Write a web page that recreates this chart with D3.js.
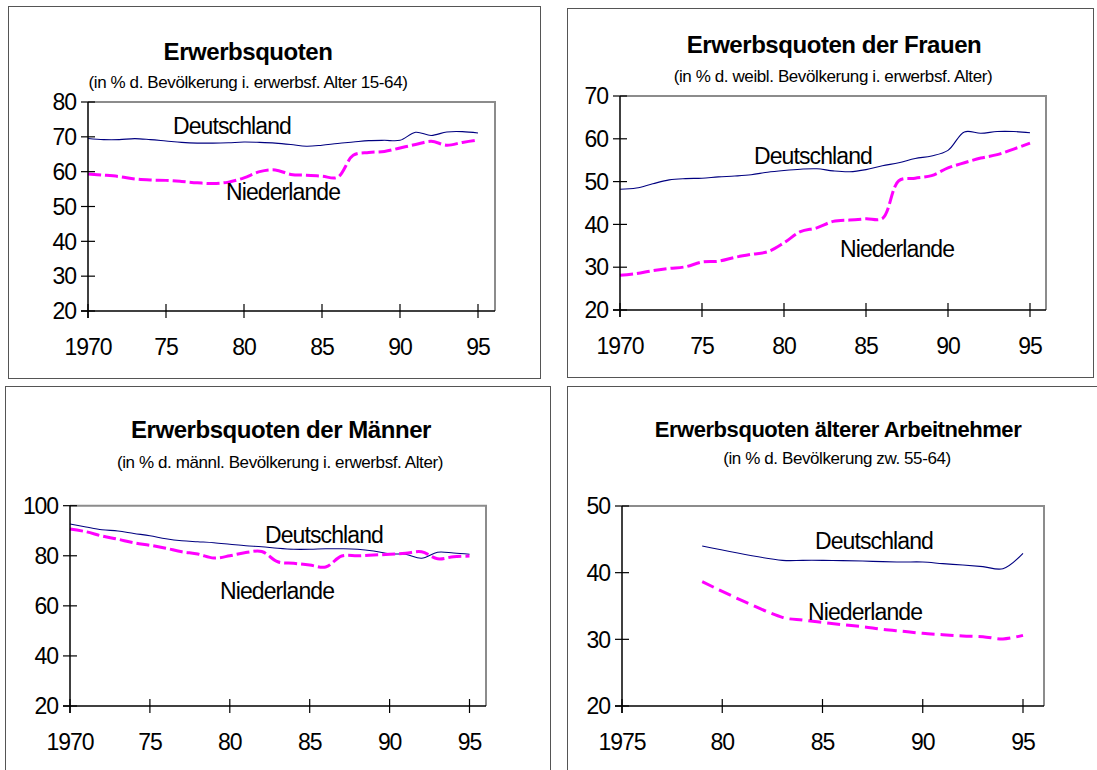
<!DOCTYPE html>
<html>
<head>
<meta charset="utf-8">
<script src="https://cdn.jsdelivr.net/npm/d3@7"></script>
<style>
  html, body { margin: 0; padding: 0; background: #fff; }
  svg { display: block; font-family: "Liberation Sans", Arial, sans-serif; }
</style>
</head>
<body>
<svg id="chart" width="1097" height="770"></svg>
<script>
// ---------- DATA ----------
const years7095 = [1970,1971,1972,1973,1974,1975,1976,1977,1978,1979,1980,1981,1982,1983,1984,1985,1986,1987,1988,1989,1990,1991,1992,1993,1994,1995];

const gesamtDE = [69.5,69.2,69.2,69.5,69.2,68.8,68.4,68.2,68.2,68.3,68.5,68.4,68.2,67.8,67.3,67.6,68.1,68.5,68.9,69.0,69.0,71.3,70.4,71.4,71.5,71.1];
const gesamtNL = [59.3,59.0,58.6,57.9,57.6,57.5,57.2,56.8,56.6,57.0,58.2,60.0,60.5,59.2,59.0,58.7,58.4,64.7,65.5,65.8,66.8,67.8,68.7,67.6,68.4,69.1];

const frauenDE = [48.2,48.5,49.5,50.4,50.7,50.8,51.1,51.3,51.6,52.2,52.6,52.9,53.0,52.5,52.3,52.8,53.7,54.4,55.4,56.0,57.3,61.6,61.3,61.7,61.7,61.4];
const frauenNL = [28.1,28.5,29.2,29.7,30.1,31.2,31.4,32.3,33.0,33.6,35.7,38.3,39.2,40.7,41.0,41.3,41.4,50.2,50.8,51.4,53.2,54.4,55.5,56.3,57.6,59.0];

const maennerDE = [92.7,91.5,90.4,89.9,88.9,88.0,86.8,86.0,85.6,85.2,84.6,84.0,83.6,83.0,82.6,82.6,82.8,82.8,82.6,81.9,80.8,80.6,79.0,81.4,81.1,80.6];
const maennerNL = [90.7,89.6,87.9,86.6,85.2,84.2,83.0,81.6,80.7,79.1,80.0,81.3,81.7,77.6,77.0,76.3,75.5,79.9,80.0,80.3,80.6,81.0,81.6,78.8,79.6,79.9];

const aeltereYears = [1979,1983,1984,1985,1986,1987,1988,1989,1990,1991,1992,1993,1994,1995];
const aeltereDE = [44.0,41.85,41.85,41.85,41.8,41.75,41.65,41.6,41.6,41.35,41.15,40.9,40.6,42.9];
const aeltereNL = [38.65,33.3,32.9,32.55,32.2,31.9,31.5,31.2,30.9,30.7,30.5,30.4,30.05,30.6];

const xTicks7095 = [1970,1975,1980,1985,1990,1995];
const xTickLabels7095 = ["1970","75","80","85","90","95"];
const xTicks7595 = [1975,1980,1985,1990,1995];
const xTickLabels7595 = ["1975","80","85","90","95"];

const yTicksGesamt = [20,30,40,50,60,70,80];
const yTicksFrauen = [20,30,40,50,60,70];
const yTicksMaenner = [20,40,60,80,100];
const yTicksAeltere = [20,30,40,50];

const titles = ["Erwerbsquoten","Erwerbsquoten der Frauen","Erwerbsquoten der Männer","Erwerbsquoten älterer Arbeitnehmer"];
const subtitles = ["(in % d. Bevölkerung i. erwerbsf. Alter 15-64)","(in % d. weibl. Bevölkerung i. erwerbsf. Alter)","(in % d. männl. Bevölkerung i. erwerbsf. Alter)","(in % d. Bevölkerung zw. 55-64)"];
const seriesNames = ["Deutschland","Niederlande"];

// ---------- LAYOUT ----------
const panels = [
  { box:[8,6,540,378], xDom:[1970,1995], xR:[88,478], frameR:495, yDom:[20,80], yR:[311,102],
    xT:xTicks7095, xL:xTickLabels7095, yT:yTicksGesamt, years:years7095, de:gesamtDE, nl:gesamtNL,
    title:[248,60,24], sub:[248,88], deL:[173,134], nlL:[226,200], dash:"13,4" },
  { box:[567,8,1093,377], xDom:[1970,1995], xR:[620,1030], frameR:1046, yDom:[20,70], yR:[310,96],
    xT:xTicks7095, xL:xTickLabels7095, yT:yTicksFrauen, years:years7095, de:frauenDE, nl:frauenNL,
    title:[834,53,24], sub:[833,82], deL:[754,164], nlL:[840,257], dash:"13,4" },
  { box:[5,386,550,800], xDom:[1970,1995], xR:[70,469.5], frameR:486, yDom:[20,100], yR:[706,505.7],
    xT:xTicks7095, xL:xTickLabels7095, yT:yTicksMaenner, years:years7095, de:maennerDE, nl:maennerNL,
    title:[281,438,24], sub:[280,468], deL:[265,543], nlL:[220,599], dash:"13,4" },
  { box:[567,386,1100,800], xDom:[1975,1995], xR:[622,1023], frameR:1044, yDom:[20,50], yR:[706,506],
    xT:xTicks7595, xL:xTickLabels7595, yT:yTicksAeltere, years:aeltereYears, de:aeltereDE, nl:aeltereNL,
    title:[838,437,22], sub:[837,464], deL:[815,549], nlL:[808,620], dash:"13,6" }
];

const svg = d3.select("#chart");

panels.forEach((p, i) => {
  const g = svg.append("g");
  // outer border
  g.append("rect")
    .attr("x", p.box[0] + 0.5).attr("y", p.box[1] + 0.5)
    .attr("width", p.box[2] - p.box[0]).attr("height", p.box[3] - p.box[1])
    .attr("fill", "none").attr("stroke", "#555").attr("stroke-width", 1);

  const x = d3.scaleLinear().domain(p.xDom).range(p.xR);
  const y = d3.scaleLinear().domain(p.yDom).range(p.yR);
  const left = p.xR[0], bottom = p.yR[0], top = p.yR[1], right = p.frameR;

  // title
  g.append("text").attr("x", p.title[0]).attr("y", p.title[1])
    .attr("text-anchor", "middle").attr("font-weight", "bold")
    .attr("font-size", p.title[2]).attr("letter-spacing", -0.45).text(titles[i]);
  g.append("text").attr("x", p.sub[0]).attr("y", p.sub[1])
    .attr("text-anchor", "middle").attr("font-size", 17).attr("letter-spacing", -0.4)
    .text(subtitles[i]);

  // grey frame top & right
  g.append("path")
    .attr("d", `M${left},${top}H${right}V${bottom}`)
    .attr("fill", "none").attr("stroke", "#8c8c8c").attr("stroke-width", 2);

  // lines
  const line = d3.line().x((d) => x(d[0])).y((d) => y(d[1])).curve(d3.curveCatmullRom.alpha(0.5));
  g.append("path").datum(p.years.map((yr, k) => [yr, p.de[k]]))
    .attr("d", line).attr("fill", "none").attr("stroke", "#000080").attr("stroke-width", 1.1);
  g.append("path").datum(p.years.map((yr, k) => [yr, p.nl[k]]))
    .attr("d", line).attr("fill", "none").attr("stroke", "#ff00ff")
    .attr("stroke-width", 3).attr("stroke-dasharray", p.dash);

  // axes (black left and bottom)
  g.append("line").attr("x1", left).attr("x2", left).attr("y1", top).attr("y2", bottom + 7)
    .attr("stroke", "#000").attr("stroke-width", 1.5);
  g.append("line").attr("x1", left - 7).attr("x2", right).attr("y1", bottom).attr("y2", bottom)
    .attr("stroke", "#000").attr("stroke-width", 1.5);

  // y ticks (cross)
  g.selectAll(".yt").data(p.yT).enter().append("line")
    .attr("x1", left - 7).attr("x2", left + 7)
    .attr("y1", (d) => y(d)).attr("y2", (d) => y(d))
    .attr("stroke", "#000").attr("stroke-width", 1.2);
  g.selectAll(".yl").data(p.yT).enter().append("text")
    .attr("x", left - 12).attr("y", (d) => y(d)).attr("dy", "0.36em")
    .attr("text-anchor", "end").attr("font-size", 23).attr("letter-spacing", -1.1)
    .text((d) => d);

  // x ticks (cross)
  g.selectAll(".xt").data(p.xT).enter().append("line")
    .attr("x1", (d) => x(d)).attr("x2", (d) => x(d))
    .attr("y1", bottom - 7).attr("y2", bottom + 7)
    .attr("stroke", "#000").attr("stroke-width", 1.2);
  g.selectAll(".xl").data(p.xT).enter().append("text")
    .attr("x", (d) => x(d)).attr("y", bottom + 44)
    .attr("text-anchor", "middle").attr("font-size", 23).attr("letter-spacing", -1.1)
    .text((d, k) => p.xL[k]);

  // series labels
  g.append("text").attr("x", p.deL[0]).attr("y", p.deL[1]).attr("font-size", 23)
    .attr("letter-spacing", -0.9).text(seriesNames[0]);
  g.append("text").attr("x", p.nlL[0]).attr("y", p.nlL[1]).attr("font-size", 23)
    .attr("letter-spacing", -0.9).text(seriesNames[1]);
});
</script>
</body>
</html>
